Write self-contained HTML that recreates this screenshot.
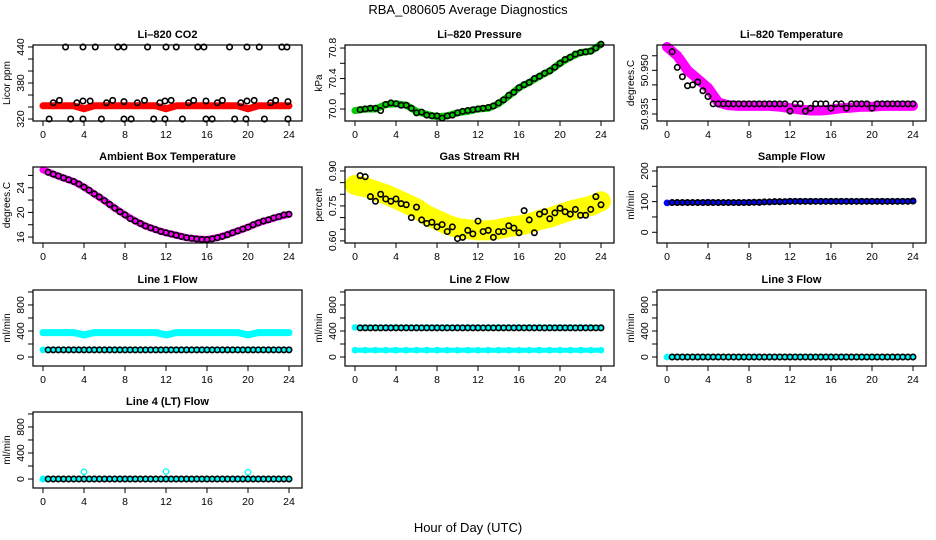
<!DOCTYPE html>
<html><head><meta charset="utf-8"><style>
body{margin:0;background:#fff}
svg{display:block;font-family:"Liberation Sans",sans-serif}
</style></head><body>
<svg id="c" width="936" height="540" viewBox="0 0 936 540">
<rect width="936" height="540" fill="#fff"/>
<text x="468" y="14" text-anchor="middle" font-size="13">RBA_080605  Average Diagnostics</text>
<text x="468" y="532" text-anchor="middle" font-size="13">Hour of Day (UTC)</text>
</svg>
<script>
const hrsB=[0.5,1,1.5,2,2.5,3,3.5,4,4.5,5,5.5,6,6.5,7,7.5,8,8.5,9,9.5,10,10.5,11,11.5,12,12.5,13,13.5,14,14.5,15,15.5,16,16.5,17,17.5,18,18.5,19,19.5,20,20.5,21,21.5,22,22.5,23,23.5,24];
const hrsC=[0,1,2,3,4,5,6,7,8,9,10,11,12,13,14,15,16,17,18,19,20,21,22,23,24];
const xTicks=[0,4,8,12,16,20,24];

const co2Hours=[2.2,3.9,5.1,7.3,7.9,10.2,12,13,15.1,15.7,18.2,19.9,21.1,23.3,23.8,0.6,2.7,3.9,5.7,7.9,8.6,10.8,11.9,13.6,15.9,16.5,18.7,19.8,21.6,23.9,1.0,1.6,3.3,3.9,4.6,6.2,6.8,7.9,9.2,9.9,11.4,11.9,12.5,14.2,14.7,15.9,17.0,17.5,19.3,19.9,20.6,22.2,22.7,23.9];
const co2Black=[440,440,440,440,440,440,440,440,440,440,440,440,440,440,440,320,320,320,320,320,320,320,320,320,320,320,320,320,320,320,347,351,347,350,350,347,351,349,347,351,347,350,351,347,351,350,347,351,347,350,351,347,351,349];
const co2Red=[342,342,342,342,337,342,342,342,342,342,342,342,337,342,342,342,342,342,342,342,337,342,342,342,342];

const presBlack=[69.99,70.00,70.01,70.01,69.98,70.06,70.08,70.07,70.05,70.05,70.01,69.95,69.96,69.92,69.91,69.91,69.88,69.91,69.92,69.95,69.97,69.98,69.99,70.00,70.01,70.02,70.04,70.08,70.12,70.18,70.22,70.28,70.32,70.35,70.40,70.43,70.47,70.50,70.55,70.60,70.65,70.68,70.72,70.74,70.75,70.76,70.80,70.85];
const presGreen=[69.98,70.0,70.0,70.06,70.07,70.05,69.97,69.93,69.90,69.91,69.95,69.97,70.0,70.01,70.07,70.17,70.28,70.35,70.43,70.50,70.60,70.68,70.74,70.76,70.85];

const tempBlack=[50.9564,50.951,50.9478,50.9447,50.945,50.946,50.943,50.941,50.9385,50.9385,50.9385,50.9385,50.9385,50.9385,50.9385,50.9385,50.9385,50.9385,50.9385,50.9385,50.9385,50.9385,50.9385,50.936,50.9385,50.9385,50.936,50.937,50.9385,50.9385,50.9385,50.937,50.9385,50.9385,50.937,50.9385,50.9385,50.9385,50.9385,50.937,50.9385,50.9385,50.9385,50.9385,50.9385,50.9385,50.9385,50.9385];
const tempPink=[50.958,50.955,50.950,50.947,50.944,50.939,50.938,50.9378,50.9378,50.9378,50.9378,50.9375,50.937,50.9365,50.9362,50.9362,50.9365,50.937,50.9372,50.9375,50.9375,50.9378,50.9378,50.9378,50.9378];

const ambBlack=[26.5,26.2,25.9,25.6,25.3,25.0,24.6,24.1,23.6,23.0,22.5,21.9,21.3,20.7,20.1,19.6,19.0,18.6,18.2,17.8,17.5,17.2,16.9,16.7,16.5,16.3,16.1,15.9,15.8,15.7,15.6,15.6,15.7,15.9,16.1,16.4,16.7,17.0,17.3,17.6,18.0,18.3,18.6,18.8,19.1,19.3,19.6,19.7];
const ambPink=[26.9,26.2,25.6,25.0,24.1,23.0,21.9,20.7,19.6,18.6,17.8,17.2,16.7,16.3,15.9,15.7,15.6,15.9,16.4,17.0,17.6,18.3,18.8,19.3,19.7];

const rhBlack=[0.88,0.875,0.79,0.77,0.80,0.78,0.77,0.78,0.76,0.755,0.70,0.745,0.69,0.675,0.68,0.66,0.67,0.64,0.66,0.61,0.615,0.645,0.63,0.685,0.64,0.645,0.615,0.64,0.64,0.665,0.655,0.635,0.73,0.69,0.635,0.715,0.725,0.695,0.72,0.74,0.725,0.715,0.735,0.71,0.71,0.735,0.79,0.755];
const rhYellow=[0.84,0.83,0.815,0.80,0.78,0.76,0.74,0.71,0.69,0.67,0.655,0.65,0.645,0.645,0.65,0.66,0.665,0.675,0.69,0.70,0.715,0.73,0.74,0.75,0.77];

const sfBlack=[97,97,97,97,97,97,97,97,97,97,97,97,97,97,97,97,98,98,99,99,100,100,100,101,101,101,101,101,101,101,101,101,101,101,101,101,101,101,101,101,101,101,101,101,101,101,101,102];
const sfBlue=[96,97,97,97,98,97,97,97,98,97,99,99,101,101,101,101,101,101,101,101,101,101,101,101,102];

const l1Black=[110,110,110,110,110,110,110,110,110,110,110,110,110,110,110,110,110,110,110,110,110,110,110,110,110,110,110,110,110,110,110,110,110,110,110,110,110,110,110,110,110,110,110,110,110,110,110,110];
const l1CyanHi=[375,375,375,375,340,375,375,375,375,375,375,375,340,375,375,375,375,375,375,375,340,375,375,375,375];
const l1CyanLo=[110,110,110,110,110,110,110,110,110,110,110,110,110,110,110,110,110,110,110,110,110,110,110,110,110];

const l2Black=[448,448,448,448,448,448,448,448,448,448,448,448,448,448,448,448,448,448,448,448,448,448,448,448,448,448,448,448,448,448,448,448,448,448,448,448,448,448,448,448,448,448,448,448,448,448,448,448];
const l2CyanHi=[455,455,455,455,455,455,455,455,455,455,455,455,455,455,455,455,455,455,455,455,455,455,455,455,455];
const l2CyanLo=[105,105,105,105,105,105,105,105,105,105,105,105,105,105,105,105,105,105,105,105,105,105,105,105,105];

const l3Black=[0,0,0,0,0,0,0,0,0,0,0,0,0,0,0,0,0,0,0,0,0,0,0,0,0,0,0,0,0,0,0,0,0,0,0,0,0,0,0,0,0,0,0,0,0,0,0,0];
const l3Cyan=[0,0,0,0,0,0,0,0,0,0,0,0,0,0,0,0,0,0,0,0,0,0,0,0,0];

const l4Black=[0,0,0,0,0,0,0,0,0,0,0,0,0,0,0,0,0,0,0,0,0,0,0,0,0,0,0,0,0,0,0,0,0,0,0,0,0,0,0,0,0,0,0,0,0,0,0,0];
const l4Cyan=[0,0,0,0,110,0,0,0,0,0,0,0,115,0,0,0,0,0,0,0,105,0,0,0,0];

const NS="http://www.w3.org/2000/svg";
const svg=document.getElementById('c');
function mk(tag,attrs,parent){const e=document.createElementNS(NS,tag);for(const k in attrs)e.setAttribute(k,attrs[k]);(parent||svg).appendChild(e);return e;}

const colX0=[43,355,667];
const rowTop=[45,167,290,412];
const flowTicks=[0,200,400,600,800,1000];const flowLabels=[0,400,800];

function panel(col,row,name,title,ylab,dom,yt,yl,yfmt,draw){
  const g=mk('g',{});
  
  
  const x0=colX0[col],x24=x0+246,L=x0-10,R=x24+13,T=rowTop[row],B=T+76;
  const X=h=>x0+(x24-x0)*h/24;
  const Y=v=>B-(v-dom[0])/(dom[1]-dom[0])*(B-T);
  const t=mk('text',{x:(L+R)/2,y:T-7,'text-anchor':'middle','font-size':11,'font-weight':'bold'},g);t.textContent=title;
  
  
  // data
  const plot=mk('g',{},g);
  
  
  draw(plot,X,Y);
  const box=mk('rect',{x:L,y:T,width:R-L,height:B-T,fill:'none',stroke:'#000','stroke-width':1.2},g);
  
  
  const xa=mk('g',{},g);
  
  
  xTicks.forEach(h=>{mk('line',{x1:X(h),x2:X(h),y1:B,y2:B+5,stroke:'#000'},xa);
    const tx=mk('text',{x:X(h),y:B+17,'text-anchor':'middle','font-size':10.5},xa);tx.textContent=h;});
  const ya=mk('g',{},g);
  
  
  yt.forEach(v=>mk('line',{x1:L,x2:L-5,y1:Y(v),y2:Y(v),stroke:'#000'},ya));
  yl.forEach(v=>{const tx=mk('text',{x:0,y:0,'text-anchor':'middle','font-size':10.5,transform:`translate(${L-9},${Y(v)}) rotate(-90)`},ya);tx.textContent=yfmt(v);});
  const yt2=mk('text',{x:0,y:0,'text-anchor':'middle','font-size':10,transform:`translate(${L-23},${(T+B)/2}) rotate(-90)`},g);
  yt2.textContent=ylab;
  
  
}
function band(p,X,Y,hs,vs,color,w){
  let d='';hs.forEach((h,i)=>{d+=(i?'L':'M')+X(h).toFixed(1)+','+Y(vs[i]).toFixed(1);});
  const e=mk('path',{d:d,fill:'none',stroke:color,'stroke-width':w,'stroke-linejoin':'round','stroke-linecap':'round'},p);
  
  
  hs.forEach((h,i)=>{const c=mk('circle',{cx:X(h),cy:Y(vs[i]),r:2.7,fill:'none',stroke:color,'stroke-width':1.3},p);
    
    });
}
function pts(p,X,Y,hs,vs,color){
  hs.forEach((h,i)=>{const c=mk('circle',{cx:X(h),cy:Y(vs[i]),r:2.7,fill:'none',stroke:color,'stroke-width':1.6},p);
    
    });
}
const id=v=>String(v);

panel(0,0,'co2-panel','Li\u2013820 CO2','Licor ppm',[316.7,443.3],[320,340,360,380,400,420,440],[320,380,440],id,(p,X,Y)=>{band(p,X,Y,hrsC,co2Red,'#ff0000',7);pts(p,X,Y,co2Hours,co2Black,'#000');});
panel(1,0,'pressure-panel','Li\u2013820 Pressure','kPa',[69.843,70.84],[70.0,70.2,70.4,70.6,70.8],[70.0,70.4,70.8],v=>v.toFixed(1),(p,X,Y)=>{band(p,X,Y,hrsC,presGreen,'#00cc00',7);pts(p,X,Y,hrsB,presBlack,'#000');});
panel(2,0,'temperature-panel','Li\u2013820 Temperature','degrees.C',[50.9326,50.9587],[50.935,50.940,50.945,50.950,50.955],[50.935,50.950],v=>v.toFixed(3),(p,X,Y)=>{band(p,X,Y,hrsC,tempPink,'#ff00ff',10);pts(p,X,Y,hrsB,tempBlack,'#000');});
panel(0,1,'ambient-panel','Ambient Box Temperature','degrees.C',[15.04,27.36],[16,18,20,22,24,26],[16,20,24],id,(p,X,Y)=>{band(p,X,Y,hrsC,ambPink,'#ff00ff',7);pts(p,X,Y,hrsB,ambBlack,'#000');});
panel(1,1,'rh-panel','Gas Stream RH','percent',[0.591,0.917],[0.60,0.65,0.70,0.75,0.80,0.85,0.90],[0.60,0.75,0.90],v=>v.toFixed(2),(p,X,Y)=>{band(p,X,Y,hrsC,rhYellow,'#ffff00',20);pts(p,X,Y,hrsB,rhBlack,'#000');});
panel(2,1,'sample-flow-panel','Sample Flow','ml/min',[-35,213],[0,50,100,150,200],[0,100,200],id,(p,X,Y)=>{band(p,X,Y,hrsC,sfBlue,'#0000ff',5);pts(p,X,Y,hrsB,sfBlack,'#000');});
panel(0,2,'line1-flow-panel','Line 1 Flow','ml/min',[-138,1030],flowTicks,flowLabels,id,(p,X,Y)=>{band(p,X,Y,hrsC,l1CyanHi,'#00ffff',7);band(p,X,Y,hrsC,l1CyanLo,'#00ffff',5);pts(p,X,Y,hrsB,l1Black,'#000');});
panel(1,2,'line2-flow-panel','Line 2 Flow','ml/min',[-138,1030],flowTicks,flowLabels,id,(p,X,Y)=>{band(p,X,Y,hrsC,l2CyanHi,'#00ffff',5);band(p,X,Y,hrsC,l2CyanLo,'#00ffff',5);pts(p,X,Y,hrsB,l2Black,'#000');});
panel(2,2,'line3-flow-panel','Line 3 Flow','ml/min',[-138,1030],flowTicks,flowLabels,id,(p,X,Y)=>{band(p,X,Y,hrsC,l3Cyan,'#00ffff',5);pts(p,X,Y,hrsB,l3Black,'#000');});
panel(0,3,'line4-flow-panel','Line 4 (LT) Flow','ml/min',[-138,1030],flowTicks,flowLabels,id,(p,X,Y)=>{band(p,X,Y,hrsC,l4Cyan,'#00ffff',0);band(p,X,Y,hrsC,l3Cyan,'#00ffff',5);pts(p,X,Y,hrsB,l4Black,'#000');});
</script>
</body></html>
